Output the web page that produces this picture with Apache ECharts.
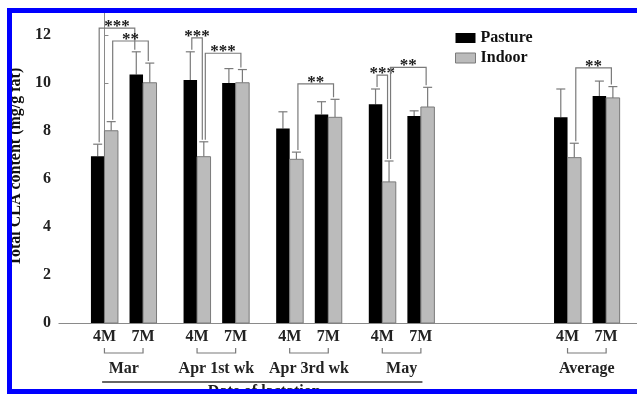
<!DOCTYPE html>
<html><head><meta charset="utf-8">
<script src="https://cdn.jsdelivr.net/npm/echarts@6/dist/echarts.min.js"></script>
<style>html,body{margin:0;padding:0;background:#fff}#c{width:637px;height:394px}</style>
</head><body><div id="c"></div>
<script>
// ---- data ----
const groups = ['Mar', 'Apr 1st wk', 'Apr 3rd wk', 'May', 'Average'];
const ages = ['4M', '7M'];
const pasture    = [6.95, 10.35, 10.12, 10.00, 8.10, 8.69, 9.11, 8.63, 8.57, 9.46];
const pastureErr = [0.50, 0.95, 1.18, 0.60, 0.70, 0.53, 0.64, 0.21, 1.18, 0.62];
const indoor     = [8.01, 10.01, 6.93, 10.01, 6.82, 8.57, 5.88, 9.00, 6.89, 9.38];
const indoorErr  = [0.38, 0.82, 0.62, 0.55, 0.30, 0.75, 0.87, 0.82, 0.60, 0.47];
// significance brackets: [pair, series] -> [pair, series], bracket level (y value), label
const significance = [
  { from: [0, 'P'], to: [1, 'P'], level: 12.29, label: '***' },
  { from: [0, 'I'], to: [1, 'I'], level: 11.75, label: '**' },
  { from: [2, 'P'], to: [2, 'I'], level: 11.88, label: '***' },
  { from: [2, 'I'], to: [3, 'I'], level: 11.24, label: '***' },
  { from: [4, 'I'], to: [5, 'I'], level: 9.96,  label: '**' },
  { from: [6, 'P'], to: [6, 'I'], level: 10.33, label: '***' },
  { from: [6, 'I'], to: [7, 'I'], level: 10.65, label: '**' },
  { from: [8, 'I'], to: [9, 'I'], level: 10.63, label: '**' }
];
const yTickInterval = 2;
const yMax = 13;
const xLabel = 'Date of lactation';
const yLabel = 'Total CLA content (mg/g fat)';

// ---- layout ----
const FONT = '"Liberation Serif", "Times New Roman", serif';
const groupOffsets = [0, 12, 24, 36, 60];
const pairPos = i => groupOffsets[Math.floor(i / 2)] + (i % 2) * 5;
const BW = 13.5;
const LINE = '#7a7a7a';

function barX(api, ref) {
  const c = api.coord([pairPos(ref[0]), 0])[0];
  return ref[1] === 'P' ? c - BW / 2 : c + BW / 2;
}
function errTop(ref) {
  const i = ref[0];
  return ref[1] === 'P' ? pasture[i] + pastureErr[i] : indoor[i] + indoorErr[i];
}

function barSeries(name, vals, errs, side, fill, stroke) {
  return {
    type: 'custom', name,
    data: vals.map((v, i) => [pairPos(i), v, errs[i]]),
    encode: { x: 0, y: 1 },
    itemStyle: { color: fill },
    renderItem: (params, api) => {
      const x = api.value(0), v = api.value(1), e = api.value(2);
      const base = api.coord([x, 0]), top = api.coord([x, v]), et = api.coord([x, v + e]);
      const x0 = side < 0 ? base[0] - BW : base[0];
      const cx = x0 + BW / 2;
      return { type: 'group', children: [
        { type: 'line', shape: { x1: cx, y1: top[1], x2: cx, y2: et[1] }, style: { stroke: LINE, lineWidth: 1.2 } },
        { type: 'line', shape: { x1: cx - 4.5, y1: et[1], x2: cx + 4.5, y2: et[1] }, style: { stroke: LINE, lineWidth: 1.2 } },
        { type: 'rect', shape: { x: x0, y: top[1], width: BW, height: base[1] - top[1] },
          style: { fill, stroke: stroke || null, lineWidth: stroke ? 1 : 0 } }
      ]};
    }
  };
}

const chart = echarts.init(document.getElementById('c'), null, { renderer: 'canvas' });
chart.setOption({
  animation: false,
  backgroundColor: '#fff',
  grid: { left: 58, right: 0, top: 11, bottom: 71 },
  legend: {
    orient: 'vertical', left: 450, top: 25, itemWidth: 20, itemHeight: 10, itemGap: 4,
    icon: 'rect',
    textStyle: { fontFamily: FONT, fontWeight: 'bold', fontSize: 16, color: '#111' },
    data: [
      { name: 'Pasture', itemStyle: { color: '#000' } },
      { name: 'Indoor', itemStyle: { color: '#bbbbbb', borderColor: '#7a7a7a', borderWidth: 1 } }
    ]
  },
  xAxis: {
    type: 'value', min: -5.9, max: 69,
    axisLine: { show: true, lineStyle: { color: '#8a8a8a', width: 1 } },
    axisTick: { show: false }, axisLabel: { show: false }, splitLine: { show: false }
  },
  yAxis: {
    type: 'value', min: 0, max: yMax, interval: yTickInterval,
    name: yLabel, nameLocation: 'middle', nameRotate: 90, nameGap: 33,
    nameTextStyle: { fontFamily: FONT, fontWeight: 'bold', fontSize: 16, color: '#111' },
    axisLine: { show: true, lineStyle: { color: '#8a8a8a', width: 1 } },
    axisTick: { show: true, inside: true, length: 4, lineStyle: { color: '#8a8a8a' } },
    axisLabel: { margin: 8, fontFamily: FONT, fontWeight: 'bold', fontSize: 16, color: '#222',
      formatter: v => (v % yTickInterval === 0 && v <= 12) ? String(v) : '' },
    splitLine: { show: false }
  },
  series: [
    barSeries('Pasture', pasture, pastureErr, -1, '#000', null),
    barSeries('Indoor', indoor, indoorErr, 1, '#bbbbbb', '#7a7a7a'),
    {
      type: 'custom', name: 'sig', silent: true,
      data: significance.map(s => [pairPos(s.from[0]), s.level]),
      encode: { x: 0, y: 1 },
      renderItem: (params, api) => {
        const s = significance[params.dataIndex];
        const fx = barX(api, s.from) + 1.5, tx = barX(api, s.to) - 1.5;
        const ly = api.coord([0, s.level])[1];
        const fy = api.coord([0, errTop(s.from)])[1] - 2;
        const ty = api.coord([0, errTop(s.to)])[1] - 2;
        return { type: 'group', children: [
          { type: 'polyline', shape: { points: [[fx, fy], [fx, ly], [tx, ly], [tx, ty]] },
            style: { stroke: LINE, lineWidth: 1.2, fill: null } },
          { type: 'text', style: { x: (fx + tx) / 2, y: ly - 1.5, text: s.label, align: 'center',
            verticalAlign: 'middle', font: 'bold 17px ' + FONT, fill: '#1a1a1a' } }
        ]};
      }
    },
    {
      type: 'custom', name: 'labels', silent: true,
      data: pasture.map((v, i) => [pairPos(i), 0]),
      encode: { x: 0, y: 1 },
      renderItem: (params, api) => {
        const i = params.dataIndex;
        const p = api.coord([pairPos(i), 0]);
        const children = [
          { type: 'text', style: { x: p[0], y: p[1] + 14, text: ages[i % 2], align: 'center',
            verticalAlign: 'middle', font: 'bold 16px ' + FONT, fill: '#222' } }
        ];
        if (i % 2 === 0) {
          const q = api.coord([pairPos(i + 1), 0]);
          children.push({ type: 'polyline', shape: { points: [[p[0], p[1] + 25], [p[0], p[1] + 30], [q[0], p[1] + 30], [q[0], p[1] + 25]] },
            style: { stroke: LINE, lineWidth: 1.2, fill: null } });
          children.push({ type: 'text', style: { x: (p[0] + q[0]) / 2, y: p[1] + 46, text: groups[i / 2], align: 'center',
            verticalAlign: 'middle', font: 'bold 16px ' + FONT, fill: '#222' } });
        }
        return { type: 'group', children };
      }
    },
    {
      type: 'custom', name: 'date', silent: true,
      data: [[pairPos(0) - 0.3, pairPos(7) + 0.2]],
      encode: { x: [0, 1] },
      renderItem: (params, api) => {
        const a = api.coord([api.value(0), 0]), b = api.coord([api.value(1), 0]);
        return { type: 'group', children: [
          { type: 'line', shape: { x1: a[0], y1: a[1] + 59, x2: b[0], y2: a[1] + 59 }, style: { stroke: '#333', lineWidth: 1.5 } },
          { type: 'text', style: { x: (a[0] + b[0]) / 2 + 2, y: a[1] + 69, text: xLabel, align: 'center',
            verticalAlign: 'middle', font: 'bold 16px ' + FONT, fill: '#222' } }
        ]};
      }
    }
  ],
  graphic: [
    { type: 'rect', z: 100, silent: true, shape: { x: 9.5, y: 10.5, width: 700, height: 381 },
      style: { fill: null, stroke: '#0000ff', lineWidth: 5 } }
  ]
});
</script></body></html>
